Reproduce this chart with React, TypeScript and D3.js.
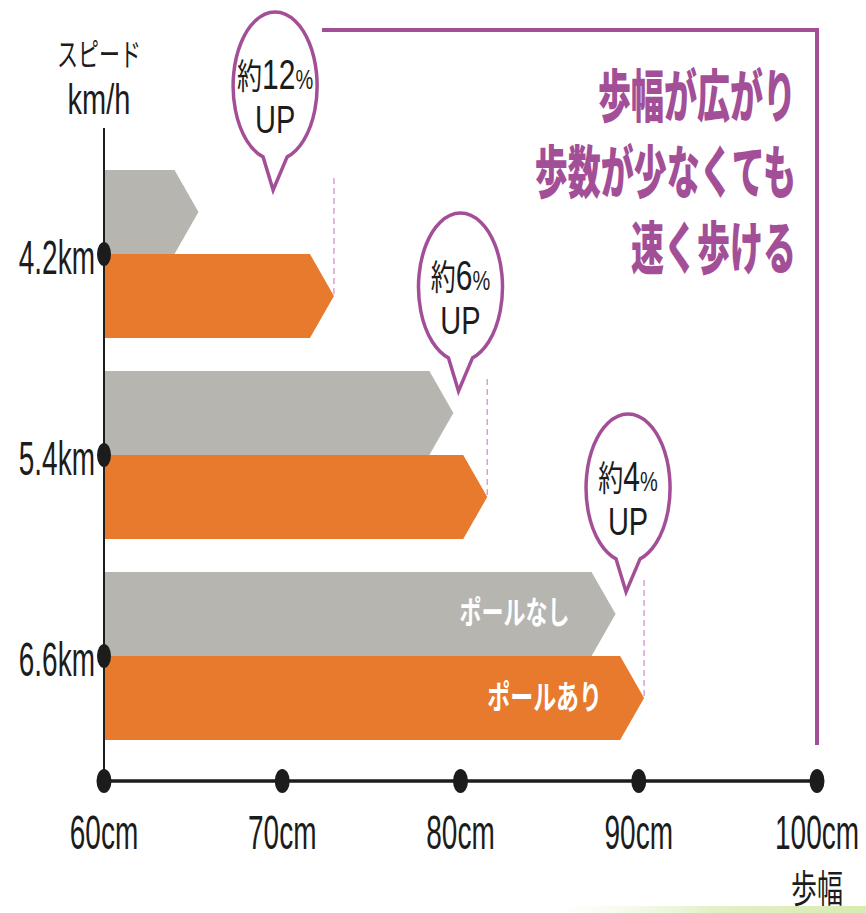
import React from "react";
import * as d3 from "d3";

const SPEEDS = ["4.2km", "5.4km", "6.6km"];
const WITHOUT_POLE = [65.3, 79.6, 88.7];
const WITH_POLE = [72.9, 81.5, 90.3];
const UP_PCT = ["12", "6", "4"];
const BUBBLE_CM = [69.6, 80.0, 89.4];
const X_TICKS = [60, 70, 80, 90, 100];
const SERIES_NAMES = ["ポールなし", "ポールあり"];
const MESSAGE = ["歩幅が広がり", "歩数が少なくても", "速く歩ける"];

const W = 866;
const H = 913;
const LATIN = "'Liberation Sans', Arial, sans-serif";
const CJK = "'Noto Sans CJK JP', sans-serif";
const ORANGE = "#e77a2d";
const GRAY = "#b7b5b0";
const PURPLE = "#a34f98";
const DASH = "#d9a1d3";
const INK = "#1c1c1c";

function SText({ x, y, sy = 1, anchor = "start", size, family, weight = 400, fill = INK, children }: any) {
  return (
    <text
      transform={`translate(${x},${y}) scale(1,${sy})`}
      textAnchor={anchor}
      fontSize={size}
      fontFamily={family}
      fontWeight={weight}
      fill={fill}
    >
      {children}
    </text>
  );
}

const ARROW = 24;
function arrowPath(x0: number, xTip: number, y0: number, h: number) {
  const body = xTip - ARROW;
  return `M${x0},${y0}H${body}L${xTip},${y0 + h / 2}L${body},${y0 + h}H${x0}Z`;
}

function bubblePath(cx: number, cy: number, rx: number, ry: number, tipX: number, tipY: number) {
  const half = 12;
  const t = Math.acos(half / rx);
  const ax = cx - half;
  const bx = cx + half;
  const by = cy + ry * Math.sin(t);
  return `M${ax},${by}A${rx},${ry} 0 1 1 ${bx},${by}L${tipX},${tipY}Z`;
}

export default function App() {
  const x = d3.scaleLinear().domain([60, 100]).range([104, 817]);
  const y = d3.scaleBand<string>().domain(SPEEDS).range([170, 740]).paddingInner(0.164);
  const sub = d3.scaleBand<string>().domain(["without", "with"]).range([0, y.bandwidth()]);
  const bh = sub.bandwidth();
  const axisY = 781;

  return (
    <svg width={W} height={H} style={{ position: "absolute", left: 0, top: 0, background: "#fff" }}>
      <defs>
        <linearGradient id="grn" x1="0" x2="1" y1="0" y2="0">
          <stop offset="0" stopColor="#eef6de" stopOpacity="0" />
          <stop offset="0.5" stopColor="#e3f0c6" stopOpacity="1" />
          <stop offset="1" stopColor="#d8ebb0" stopOpacity="1" />
        </linearGradient>
      </defs>
      <rect x={560} y={906} width={306} height={7} fill="url(#grn)" />

      {/* purple frame */}
      <path d={`M322,30H${x(100)}V745`} fill="none" stroke={PURPLE} strokeWidth={4} />
      {MESSAGE.map((m, i) => (
        <SText key={m} x={796} y={117 + i * 76} sy={1.72} anchor="end" size={33} family={CJK} weight={900} fill={PURPLE}>
          {m}
        </SText>
      ))}

      {/* bars */}
      {SPEEDS.map((s, i) => {
        const y0 = y(s)!;
        const yg = y0 + sub("without")!;
        const yo = y0 + sub("with")!;
        const xo = x(WITH_POLE[i]);
        const xg = x(WITHOUT_POLE[i]);
        return (
          <g key={s}>
            <path d={arrowPath(x(60), xg, yg, bh)} fill={GRAY} />
            <path d={arrowPath(x(60), xo, yo, bh)} fill={ORANGE} />
            <line x1={xo} x2={xo} y1={yg + 8} y2={yo + bh / 2} stroke={DASH} strokeWidth={1.5} strokeDasharray="6 4" />
            {i === SPEEDS.length - 1 && (
              <>
                <SText x={xg - ARROW - 22} y={yg + bh / 2 + 10} sy={1.45} anchor="end" size={22} family={CJK} weight={700} fill="#fff">
                  {SERIES_NAMES[0]}
                </SText>
                <SText x={xo - ARROW - 18} y={yo + bh / 2 + 11} sy={1.45} anchor="end" size={23} family={CJK} weight={700} fill="#fff">
                  {SERIES_NAMES[1]}
                </SText>
              </>
            )}
          </g>
        );
      })}

      {/* bubbles */}
      {SPEEDS.map((s, i) => {
        const cx = x(BUBBLE_CM[i]);
        const cy = y(s)! - 84;
        return (
          <g key={"b" + s}>
            <path d={bubblePath(cx, cy, 42, 74, cx - 2, cy + 104)} fill="#fff" stroke={PURPLE} strokeWidth={3.5} strokeLinejoin="miter" />
            <SText x={cx} y={cy + 3} sy={1.42} anchor="middle" size={30} family={LATIN}>
              <tspan fontFamily={CJK} fontSize={25}>約</tspan>
              <tspan>{UP_PCT[i]}</tspan>
              <tspan fontSize={20}>%</tspan>
            </SText>
            <SText x={cx} y={cy + 47} sy={1.36} anchor="middle" size={29} family={LATIN}>
              UP
            </SText>
          </g>
        );
      })}

      {/* y axis */}
      <line x1={x(60)} x2={x(60)} y1={128} y2={axisY} stroke={INK} strokeWidth={2} />
      <SText x={99} y={66} sy={1.5} anchor="middle" size={21} family={CJK}>スピード</SText>
      <SText x={99} y={114} sy={1.45} anchor="middle" size={29} family={LATIN}>km/h</SText>
      {SPEEDS.map((s) => {
        const cy = y(s)! + sub("with")!;
        return (
          <g key={"y" + s}>
            <ellipse cx={x(60)} cy={cy} rx={7} ry={12} fill={INK} />
            <SText x={95} y={cy + 20} sy={1.7} anchor="end" size={28} family={LATIN}>{s}</SText>
          </g>
        );
      })}

      {/* x axis */}
      <line x1={x(60)} x2={x(100)} y1={axisY} y2={axisY} stroke={INK} strokeWidth={3.5} />
      {X_TICKS.map((t) => (
        <g key={"x" + t}>
          <ellipse cx={x(t)} cy={axisY} rx={7.5} ry={12} fill={INK} />
          <SText x={x(t)} y={849} sy={1.7} anchor="middle" size={28} family={LATIN}>{`${t}cm`}</SText>
        </g>
      ))}
      <SText x={x(100)} y={902} sy={1.45} anchor="middle" size={26} family={CJK}>歩幅</SText>
    </svg>
  );
}
